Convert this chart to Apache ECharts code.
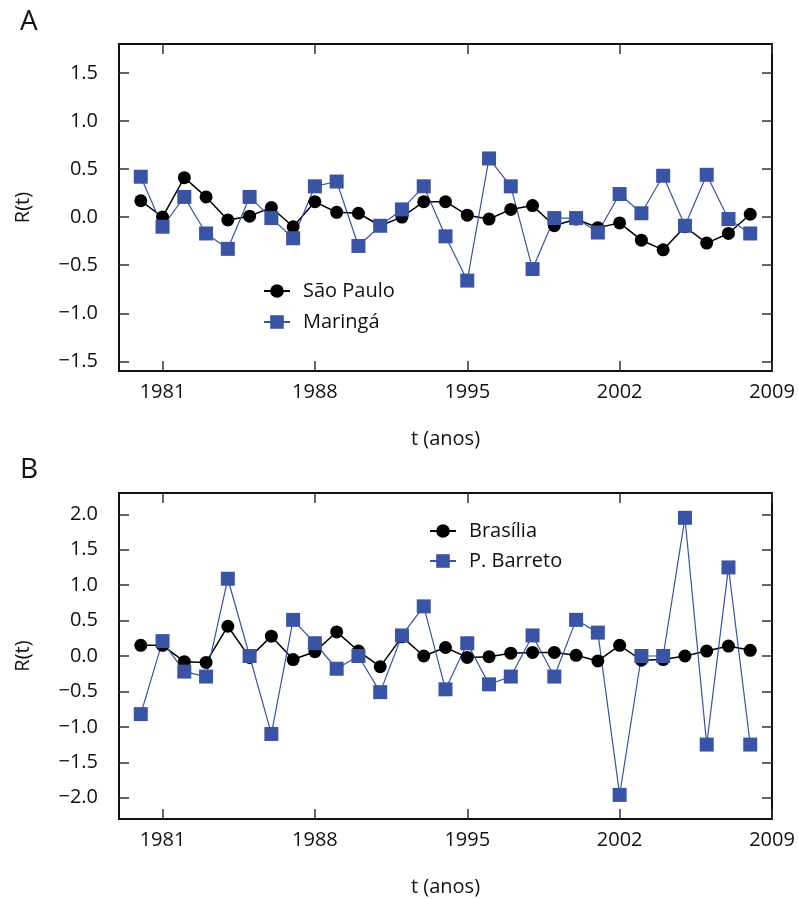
<!DOCTYPE html>
<html>
<head>
<meta charset="utf-8">
<script src="https://cdn.jsdelivr.net/npm/echarts@6/dist/echarts.min.js"></script>
<style>
  html, body { margin: 0; padding: 0; background: #fff; }
  #chart { width: 798px; height: 899px; }
</style>
</head>
<body>
<div id="chart"></div>
<script>
// Years of observation
const years = [1980, 1981, 1982, 1983, 1984, 1985, 1986, 1987, 1988, 1989,
               1990, 1991, 1992, 1993, 1994, 1995, 1996, 1997, 1998, 1999,
               2000, 2001, 2002, 2003, 2004, 2005, 2006, 2007, 2008];

// Panel A
const saoPaulo = [0.17, 0.00, 0.41, 0.21, -0.03, 0.01, 0.10, -0.10, 0.16, 0.05,
                  0.04, -0.09, 0.00, 0.16, 0.16, 0.02, -0.02, 0.08, 0.12, -0.09,
                  -0.02, -0.11, -0.06, -0.24, -0.34, -0.10, -0.27, -0.17, 0.03];
const maringa = [0.42, -0.10, 0.21, -0.17, -0.33, 0.21, -0.01, -0.22, 0.32, 0.37,
                 -0.30, -0.09, 0.08, 0.32, -0.20, -0.66, 0.61, 0.32, -0.54, -0.01,
                 -0.01, -0.16, 0.24, 0.04, 0.43, -0.09, 0.44, -0.02, -0.17];

// Panel B
const brasilia = [0.15, 0.15, -0.08, -0.09, 0.42, -0.02, 0.28, -0.05, 0.06, 0.34,
                  0.07, -0.15, 0.27, 0.00, 0.12, -0.02, -0.01, 0.04, 0.05, 0.05,
                  0.01, -0.07, 0.15, -0.06, -0.05, 0.00, 0.07, 0.14, 0.08];
const pBarreto = [-0.82, 0.21, -0.22, -0.29, 1.09, 0.00, -1.10, 0.51, 0.18, -0.18,
                  0.00, -0.51, 0.29, 0.70, -0.47, 0.18, -0.40, -0.29, 0.29, -0.29,
                  0.51, 0.33, -1.96, 0.00, 0.00, 1.95, -1.25, 1.25, -1.25];

// Tick values
const xTicks = [1981, 1988, 1995, 2002, 2009];
const yTicksA = [-1.5, -1.0, -0.5, 0.0, 0.5, 1.0, 1.5];
const yTicksB = [-2.0, -1.5, -1.0, -0.5, 0.0, 0.5, 1.0, 1.5, 2.0];

const FONT = '"Open Sans", "Noto Sans", sans-serif';
const BLUE = '#3953a5';
const TXT = '#111';

const pairs = (vals) => years.map((y, i) => [y, vals[i]]);
const fmtY = (v) => v.toFixed(1).replace('-', '\u2212');

const lineStyleAxis = { show: true, onZero: false, lineStyle: { color: '#111', width: 2 } };
const tickStyle = { color: '#333', width: 1.5 };

function xAxes(gridIndex) {
  return [
    {
      type: 'value', gridIndex, position: 'bottom', min: 1979, max: 2009,
      axisLine: lineStyleAxis,
      axisTick: { show: true, inside: true, length: 10, lineStyle: tickStyle, customValues: xTicks },
      axisLabel: { show: true, customValues: xTicks, margin: 11, fontFamily: FONT, fontSize: 20, color: TXT,
                   formatter: (v) => String(v) },
      splitLine: { show: false },
      name: 't (anos)', nameLocation: 'middle', nameGap: 58,
      nameTextStyle: { fontFamily: FONT, fontSize: 20, color: TXT }
    },
    {
      type: 'value', gridIndex, position: 'top', min: 1979, max: 2009,
      axisLine: lineStyleAxis,
      axisTick: { show: true, inside: true, length: 10, lineStyle: tickStyle, customValues: xTicks },
      axisLabel: { show: false },
      splitLine: { show: false }
    }
  ];
}

function yAxes(gridIndex, min, max, ticks) {
  return [
    {
      type: 'value', gridIndex, position: 'left', min, max,
      axisLine: lineStyleAxis,
      axisTick: { show: true, inside: true, length: 10, lineStyle: tickStyle, customValues: ticks },
      axisLabel: { show: true, customValues: ticks, margin: 21, fontFamily: FONT, fontSize: 20, color: TXT,
                   formatter: fmtY },
      splitLine: { show: false },
      name: 'R(t)', nameLocation: 'middle', nameGap: 86, nameRotate: 90,
      nameTextStyle: { fontFamily: FONT, fontSize: 20, color: TXT }
    },
    {
      type: 'value', gridIndex, position: 'right', min, max,
      axisLine: lineStyleAxis,
      axisTick: { show: true, inside: true, length: 10, lineStyle: tickStyle, customValues: ticks },
      axisLabel: { show: false },
      splitLine: { show: false }
    }
  ];
}

function blackSeries(name, vals, xi, yi) {
  return {
    name, type: 'line', xAxisIndex: xi, yAxisIndex: yi, data: pairs(vals),
    symbol: 'circle', symbolSize: 13, showAllSymbol: true,
    itemStyle: { color: '#000' },
    lineStyle: { color: '#000', width: 1.5 },
    emphasis: { disabled: true }, animation: false
  };
}
function blueSeries(name, vals, xi, yi) {
  return {
    name, type: 'line', xAxisIndex: xi, yAxisIndex: yi, data: pairs(vals),
    symbol: 'rect', symbolSize: 14, showAllSymbol: true,
    itemStyle: { color: BLUE },
    lineStyle: { color: BLUE, width: 1.2 },
    emphasis: { disabled: true }, animation: false
  };
}

const legendText = { fontFamily: FONT, fontSize: 20, color: TXT, padding: [0, 0, 0, 8] };

const option = {
  backgroundColor: '#fff',
  animation: false,
  grid: [
    { left: 119, right: 26, top: 44, height: 327 },
    { left: 119, right: 26, top: 493, height: 326 }
  ],
  xAxis: [...xAxes(0), ...xAxes(1)],
  yAxis: [...yAxes(0, -1.6, 1.8, yTicksA), ...yAxes(1, -2.3, 2.3, yTicksB)],
  legend: [
    {
      data: ['São Paulo', 'Maringá'], orient: 'vertical', left: 258, top: 276,
      itemWidth: 26, itemHeight: 17, itemGap: 11, textStyle: legendText
    },
    {
      data: ['Brasília', 'P. Barreto'], orient: 'vertical', left: 424, top: 516,
      itemWidth: 26, itemHeight: 17, itemGap: 10, textStyle: legendText
    }
  ],
  graphic: [
    { type: 'text', left: 20, top: 8, style: { text: 'A', fontFamily: FONT, fontSize: 28, fill: TXT } },
    { type: 'text', left: 20, top: 456, style: { text: 'B', fontFamily: FONT, fontSize: 28, fill: TXT } }
  ],
  series: [
    blackSeries('São Paulo', saoPaulo, 0, 0),
    blueSeries('Maringá', maringa, 0, 0),
    blackSeries('Brasília', brasilia, 2, 2),
    blueSeries('P. Barreto', pBarreto, 2, 2)
  ]
};

const chart = echarts.init(document.getElementById('chart'), null, { renderer: 'canvas' });
chart.setOption(option);
</script>
</body>
</html>
